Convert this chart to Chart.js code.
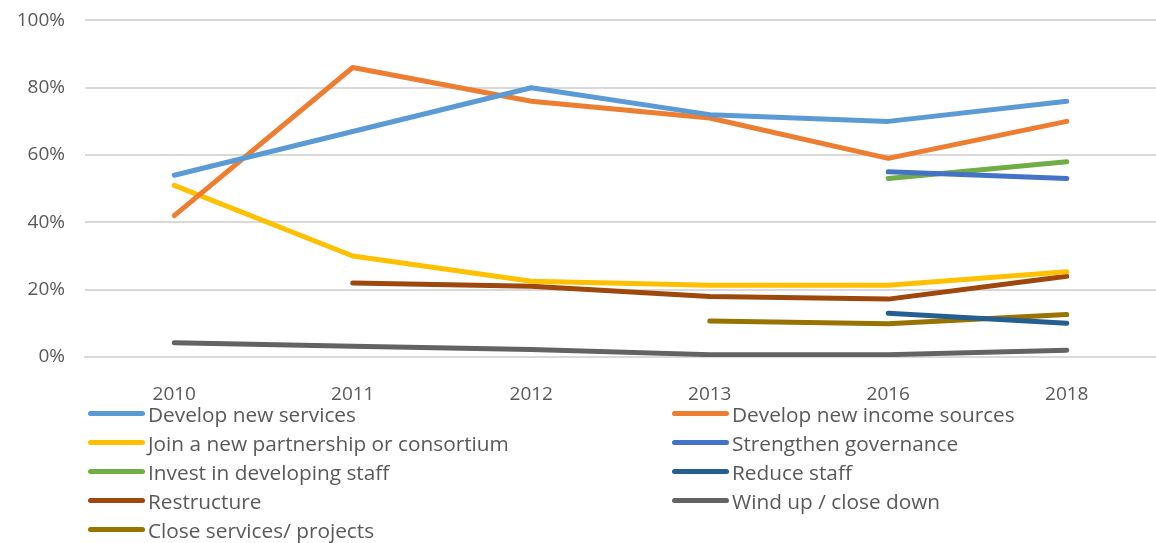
<!DOCTYPE html>
<html>
<head>
<meta charset="utf-8">
<script src="https://cdn.jsdelivr.net/npm/chart.js@4"></script>
<style>
  body { margin: 0; background: #fff; font-family: "Open Sans", sans-serif; }
  #wrap { position: relative; width: 1156px; height: 543px; overflow: hidden; }
  #chartCanvas { position: absolute; left: 0; top: -11px; }
  #legend { position: absolute; left: 88px; top: 399px; display: grid;
            grid-template-columns: 584px 484px; row-gap: 0; }
  .item { display: flex; align-items: center; height: 29px; font-size: 20.8px; color: #595959; }
  .swatch { width: 57px; height: 5px; border-radius: 3px; margin-right: 3px; }
</style>
</head>
<body>
<div id="wrap">
  <canvas id="chartCanvas" width="1156" height="411"></canvas>
  <div id="legend"></div>
</div>
<script>
const years = ['2010', '2011', '2012', '2013', '2016', '2018'];

const newServices   = [54, 67, 80, 72, 70, 76];
const incomeSources = [42, 86, 76, 71, 59, 70];
const partnership   = [51, 30, 22.5, 21.3, 21.3, 25.3];
const governance    = [null, null, null, null, 55, 53];
const investStaff   = [null, null, null, null, 53, 58];
const reduceStaff   = [null, null, null, null, 13, 10];
const restructure   = [null, 22, 21, 18, 17.2, 24];
const windUp        = [4.2, 3.2, 2.2, 0.7, 0.7, 2];
const closeServices = [null, null, null, 10.7, 9.9, 12.6];

const yTicks = [0, 20, 40, 60, 80, 100];

function series(label, data, color) {
    return {
        label: label,
        data: data,
        borderColor: color,
        backgroundColor: color,
        borderWidth: 5,
        pointRadius: 0,
        borderCapStyle: 'round',
        borderJoinStyle: 'round',
        tension: 0,
        spanGaps: false,
    };
}

const datasets = [
    series('Develop new services', newServices, '#5B9BD5'),
    series('Develop new income sources', incomeSources, '#ED7D31'),
    series('Join a new partnership or consortium', partnership, '#FFC000'),
    series('Strengthen governance', governance, '#4472C4'),
    series('Invest in developing staff', investStaff, '#70AD47'),
    series('Reduce staff', reduceStaff, '#255E91'),
    series('Restructure', restructure, '#9E480E'),
    series('Wind up / close down', windUp, '#636363'),
    series('Close services/ projects', closeServices, '#997300'),
];

// draw later datasets underneath the first ones, like the original
datasets.forEach((d, i) => { d.order = i; });

const tickFont = { family: '"Open Sans", sans-serif', size: 19 };

const chart = new Chart(document.getElementById('chartCanvas'), {
    type: 'line',
    data: { labels: years, datasets: datasets },
    options: {
        responsive: false,
        animation: false,
        layout: { padding: { top: 0, right: 0, left: 0, bottom: 0 } },
        scales: {
            x: {
                offset: true,
                grid: { display: false },
                border: { display: true, color: '#D9D9D9', width: 2 },
                ticks: { color: '#595959', font: tickFont, padding: 18 },
                afterFit: (scale) => { scale.height = 43; },
            },
            y: {
                min: 0,
                max: 100,
                afterBuildTicks: (scale) => { scale.ticks = yTicks.map(v => ({ value: v })); },
                grid: { color: '#D9D9D9', lineWidth: 2, drawTicks: false },
                border: { display: false },
                ticks: {
                    color: '#595959', font: tickFont, padding: 20,
                    callback: (v) => v + '%',
                },
                afterFit: (scale) => { scale.width = 85; },
            },
        },
        plugins: {
            legend: { display: false },
            tooltip: { enabled: false },
        },
    },
});

// legend laid out in two columns
const legendBox = document.getElementById('legend');
chart.data.datasets.forEach((ds) => {
    const item = document.createElement('div');
    item.className = 'item';
    const sw = document.createElement('span');
    sw.className = 'swatch';
    sw.style.background = ds.borderColor;
    const txt = document.createElement('span');
    txt.textContent = ds.label;
    item.appendChild(sw);
    item.appendChild(txt);
    legendBox.appendChild(item);
});
</script>
</body>
</html>
